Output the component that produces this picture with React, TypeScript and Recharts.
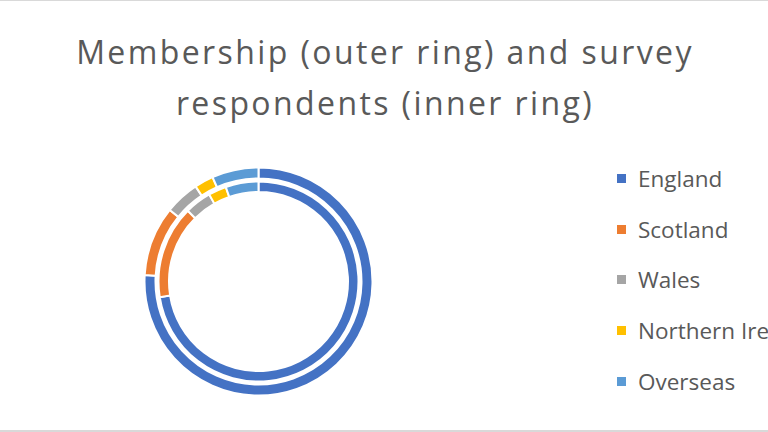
import React from "react";
import { PieChart, Pie, Cell, Legend } from "recharts";

const categories = ["England", "Scotland", "Wales", "Northern Ireland", "Overseas"];
const membership = [75.9, 9.9, 4.9, 2.7, 6.6];
const respondents = [72.5, 15.0, 4.3, 2.9, 5.3];
const colors = ["#4472C4", "#ED7D31", "#A5A5A5", "#FFC000", "#5B9BD5"];
const titleLines = ["Membership (outer ring) and survey", "respondents (inner ring)"];

const outerData = categories.map((name, i) => ({ name, value: membership[i] }));
const innerData = categories.map((name, i) => ({ name, value: respondents[i] }));

const FONT = "'Open Sans', 'Noto Sans', sans-serif";

const renderLegend = () => {
  return (
    <div>
      {categories.map((name, i) => (
        <div
          key={name}
          style={{
            display: "flex",
            alignItems: "center",
            height: 50.7,
            whiteSpace: "nowrap",
            fontFamily: FONT,
            fontSize: 22.5,
            color: "#595959",
          }}
        >
          <span
            style={{
              display: "inline-block",
              width: 9,
              height: 9,
              background: colors[i],
              marginRight: 12,
            }}
          />
          <span>{name}</span>
        </div>
      ))}
    </div>
  );
};

export default function App() {
  return (
    <div
      style={{
        position: "absolute",
        left: 0,
        top: 0,
        width: 768,
        height: 432,
        overflow: "hidden",
        background: "#fff",
      }}
    >
      <div
        style={{
          position: "absolute",
          left: 0,
          top: 0,
          width: 768,
          height: 1,
          background: "#D9D9D9",
        }}
      />
      <div
        style={{
          position: "absolute",
          left: 0,
          top: 430,
          width: 768,
          height: 2,
          background: "#D9D9D9",
        }}
      />
      <div
        style={{
          position: "absolute",
          left: 0,
          top: 26,
          width: 768,
          paddingLeft: 2,
          boxSizing: "border-box",
          textAlign: "center",
          fontFamily: FONT,
          fontSize: 32,
          letterSpacing: 2.4,
          lineHeight: "51px",
          color: "#595959",
          whiteSpace: "nowrap",
        }}
      >
        {titleLines.map((t, i) => (
          <div key={i}>{t}</div>
        ))}
      </div>
      <div style={{ position: "absolute", left: 0, top: 0 }}>
        <PieChart width={768} height={432} margin={{ top: 0, right: 0, bottom: 0, left: 0 }}>
          <Pie
            data={outerData}
            dataKey="value"
            nameKey="name"
            cx={258.5}
            cy={281.5}
            innerRadius={103}
            outerRadius={114}
            startAngle={90}
            endAngle={-270}
            stroke="#fff"
            strokeWidth={2}
            isAnimationActive={false}
          >
            {outerData.map((d, i) => (
              <Cell key={d.name} fill={colors[i]} />
            ))}
          </Pie>
          <Pie
            data={innerData}
            dataKey="value"
            nameKey="name"
            cx={258.5}
            cy={281.5}
            innerRadius={89.5}
            outerRadius={100}
            startAngle={90}
            endAngle={-270}
            stroke="#fff"
            strokeWidth={2}
            isAnimationActive={false}
            legendType="none"
          >
            {innerData.map((d, i) => (
              <Cell key={d.name} fill={colors[i]} />
            ))}
          </Pie>
          <Legend
            content={renderLegend}
            layout="vertical"
            wrapperStyle={{ position: "absolute", left: 617, top: 153, width: 300 }}
          />
        </PieChart>
      </div>
    </div>
  );
}
